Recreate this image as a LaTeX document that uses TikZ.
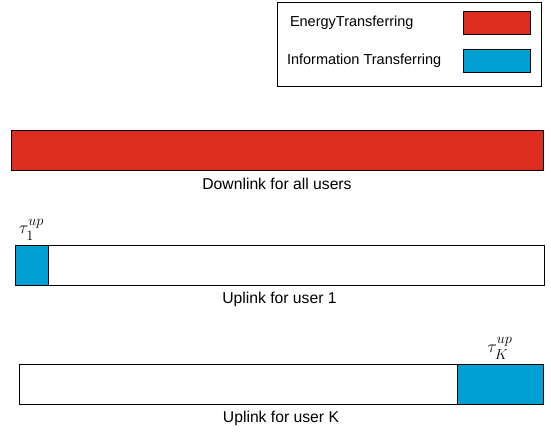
\documentclass[tikz,border=0pt]{standalone}
\usepackage{amsmath}
\usepackage[no-math]{fontspec}
\setmainfont{Liberation Sans}
\usetikzlibrary{positioning}
\definecolor{energy}{RGB}{221,45,30}
\definecolor{info}{RGB}{0,160,210}

\begin{document}
\begin{tikzpicture}
  [
    x = 1pt, y = -1pt, line width = 0.8pt,
    every node/.style = {inner sep = 0pt, outer sep = 0pt},
    bar/.style = {draw, rectangle, minimum height = 40pt, anchor = north west},
    key/.style = {draw, rectangle, minimum width = 67pt, minimum height = 23pt, anchor = north west},
    keylbl/.style = {font = \fontsize{14.5}{17}\selectfont, anchor = west},
    lbl/.style = {font = \fontsize{15.7}{18}\selectfont},
    tau/.style = {font = \fontsize{19}{22}\selectfont}
  ]
  \useasboundingbox (0,0) rectangle (551,433);
  % legend
  \node [draw, rectangle, anchor = north west, minimum width = 264pt, minimum height = 84pt] (Legend) at (277,2) {};
  \node [key, fill = energy] (EnergyKey) at (463,11) {};
  \node [key, fill = info] (InfoKey) at (463,49) {};
  \node [keylbl] (EnergyText) at (290,23) {EnergyTransferring};
  \node [keylbl] (InfoText) at (287,61) {Information Transferring};
  % downlink
  \node [bar, fill = energy, minimum width = 532pt] (Down) at (11,130) {};
  \node [lbl, below = 8pt of Down] (DownText) {Downlink for all users};
  % uplink user 1
  \node [bar, minimum width = 529pt] (UpOne) at (15,245) {};
  \node [bar, fill = info, minimum width = 33pt] (UpOneSlot) at (15,245) {};
  \node [lbl, below = 7pt of UpOne] (UpOneText) {Uplink for user 1};
  \node [tau, above = 5pt of UpOneSlot.north] (TauOne) {$\tau_1^{up}$};
  % uplink user K
  \node [bar, minimum width = 524pt] (UpK) at (19,364) {};
  \node [bar, fill = info, minimum width = 86pt] (UpKSlot) at (457,364) {};
  \node [lbl, below = 7pt of UpK] (UpKText) {Uplink for user K};
  \node [tau, above = 5pt of UpKSlot.north] (TauK) {$\tau_K^{up}$};
\end{tikzpicture}
\end{document}
